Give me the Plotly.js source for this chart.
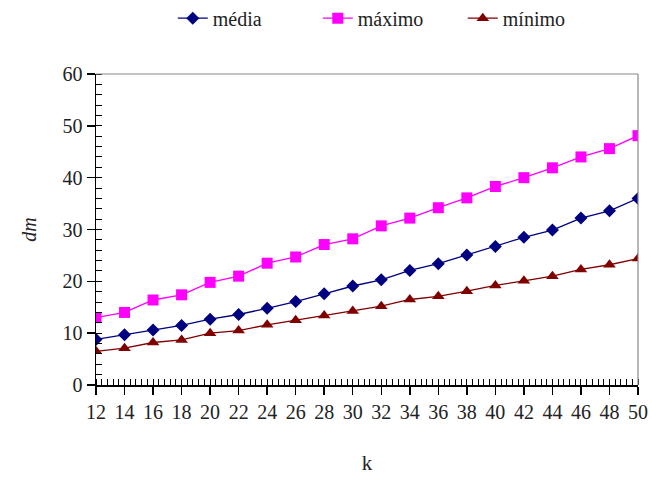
<!DOCTYPE html>
<html>
<head>
<meta charset="utf-8">
<script src="https://cdn.plot.ly/plotly-3.0.1.min.js"></script>
<style>html,body{margin:0;padding:0;background:#fff;}#chart{width:652px;height:478px;}</style>
</head>
<body>
<div id="chart"></div>
<script>
const k = [12,14,16,18,20,22,24,26,28,30,32,34,36,38,40,42,44,46,48,50];
const media = [8.8,9.7,10.6,11.5,12.7,13.6,14.8,16.1,17.6,19.1,20.3,22.1,23.4,25.1,26.7,28.5,29.9,32.2,33.6,36.0];
const maximo = [13.0,14.0,16.4,17.4,19.8,21.0,23.5,24.7,27.1,28.2,30.7,32.2,34.2,36.1,38.3,40.0,41.9,44.0,45.6,48.1];
const minimo = [6.5,7.1,8.2,8.7,10.0,10.5,11.6,12.5,13.4,14.3,15.2,16.5,17.1,18.1,19.2,20.1,21.0,22.3,23.2,24.4];
const seriesNames = ['média','máximo','mínimo'];

const font = "Times New Roman, Liberation Serif, DejaVu Serif, serif";
const traces = [
  {x:k, y:media, name:seriesNames[0], type:'scatter', mode:'lines+markers',
   line:{color:'#000080', width:1.3}, marker:{symbol:'diamond', size:10, color:'#000080'}},
  {x:k, y:maximo, name:seriesNames[1], type:'scatter', mode:'lines+markers',
   line:{color:'#FF00FF', width:1.3}, marker:{symbol:'square', size:11, color:'#FF00FF'}},
  {x:k, y:minimo, name:seriesNames[2], type:'scatter', mode:'lines+markers',
   line:{color:'#800000', width:1.3}, marker:{symbol:'triangle-up', size:11, color:'#800000'}}
];

const layout = {
  width:652, height:478,
  margin:{l:96, r:14, t:74, b:93},
  paper_bgcolor:'#fff', plot_bgcolor:'#fff',
  font:{family:font, size:20, color:'#222'},
  showlegend:true,
  legend:{orientation:'h', x:0.265, y:0.962, xref:'container', yref:'container',
          xanchor:'left', yanchor:'middle',
          font:{family:font, size:20, color:'#222'}, itemwidth:30, entrywidth:100,
          bgcolor:'rgba(0,0,0,0)'},
  xaxis:{
    range:[12,50], tickmode:'array', tickvals:k, ticktext:k.map(String),
    showgrid:false, zeroline:false, showline:true, linecolor:'#000', linewidth:1.5,
    ticks:'outside', ticklen:8, tickwidth:1.5, tickcolor:'#000',
    minor:{dtick:0.4, tick0:12, ticks:'inside', ticklen:6, tickwidth:1, tickcolor:'#000', showgrid:false},
    tickfont:{family:font, size:20, color:'#222'},
    title:{text:'k', font:{family:font, size:21, color:'#222'}, standoff:34},
    fixedrange:true
  },
  yaxis:{
    range:[0,60], dtick:10, tick0:0,
    showgrid:false, zeroline:false, showline:true, linecolor:'#000', linewidth:1.5,
    ticks:'outside', ticklen:8, tickwidth:1.5, tickcolor:'#000',
    minor:{dtick:2, ticks:'inside', ticklen:6, tickwidth:1, tickcolor:'#000', showgrid:false},
    tickfont:{family:font, size:20, color:'#222'},
    title:{text:'<i>dm</i>', font:{family:font, size:20, color:'#222'}, standoff:20},
    fixedrange:true
  },
  shapes:[
    {type:'line', xref:'paper', yref:'paper', x0:0, x1:1, y0:1, y1:1, line:{color:'#888', width:1.2}},
    {type:'line', xref:'paper', yref:'paper', x0:1, x1:1, y0:0, y1:1, line:{color:'#888', width:1.2}}
  ]
};

Plotly.newPlot('chart', traces, layout, {displayModeBar:false, staticPlot:true});
</script>
</body>
</html>
